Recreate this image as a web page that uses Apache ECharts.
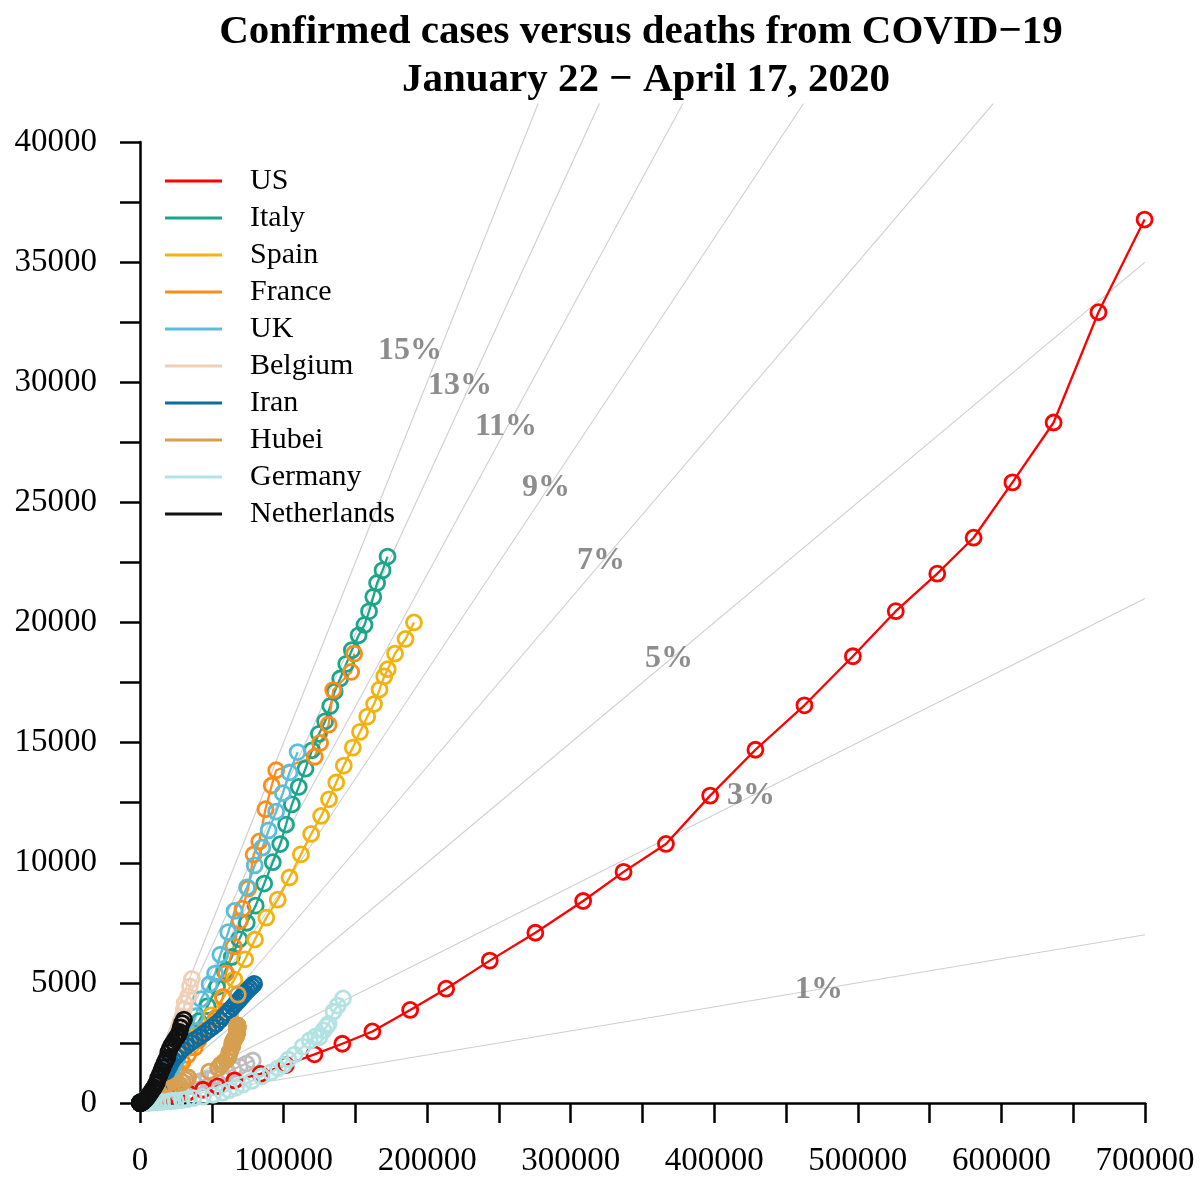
<!DOCTYPE html>
<html>
<head>
<meta charset="utf-8">
<script src="https://cdn.jsdelivr.net/npm/echarts@6/dist/echarts.min.js"></script>
<style>html,body{margin:0;padding:0;background:#fff}#chart{width:1201px;height:1180px}</style>
</head>
<body>
<div id="chart"></div>
<script>
// ---- Data (JHU cumulative confirmed cases / deaths) ----
const countryNames = ['US','Italy','Spain','France','UK','Belgium','Iran','Hubei','Germany','Netherlands'];

// US from Feb 21
const usCases = [15,15,15,51,51,57,58,60,68,
74,98,118,149,217,262,402,518,583,959,1281,1663,2179,2727,3499,4632,6421,7786,13680,19101,25493,33276,43847,53740,65778,83836,101657,121465,140909,161831,188172,
213242,243622,275367,308650,336802,366317,397121,428654,462780,496535,526396,555313,580619,607670,636350,667592,699706];
const usDeaths = [0,0,0,0,0,0,0,0,1,
1,6,7,11,12,14,17,21,22,28,36,40,47,54,63,85,108,118,200,244,307,427,552,706,942,1209,1581,2026,2467,2978,3873,
4757,5926,7087,8407,9619,10783,12794,14704,16553,18595,20471,22032,23529,25832,28325,32916,36773];

// Italy from Feb 21
const italyCases = [20,62,155,229,322,453,655,888,1128,
1694,2036,2502,3089,3858,4636,5883,7375,9172,10149,12462,12462,17660,21157,24747,27980,31506,35713,41035,47021,53578,59138,63927,69176,74386,80589,86498,92472,97689,101739,105792,
110574,115242,119827,124632,128948,132547,135586,139422,143626,147577,152271,156363,159516,162488,165155,168941,172434];
const italyDeaths = [1,2,3,7,10,12,17,21,29,
34,52,79,107,148,197,233,366,463,631,827,827,1266,1441,1809,2158,2503,2978,3405,4032,4825,5476,6077,6820,7503,8215,9134,10023,10779,11591,12428,
13155,13915,14681,15362,15887,16523,17127,17669,18279,18849,19468,19899,20465,21067,21645,22170,22745];

// Spain from Feb 25
const spainCases = [6,13,15,32,45,
84,120,165,222,259,400,500,673,1073,1695,2277,2277,5232,6391,7798,9942,11748,13910,17963,20410,25374,28768,35136,39885,49515,57786,65719,73235,80110,87956,95923,
104118,112065,119199,126168,131646,136675,141942,148220,153222,158273,163027,166831,170099,172541,177644,184948,190839];
const spainDeaths = [0,0,0,0,0,
0,0,1,2,3,5,10,17,28,35,54,55,133,195,289,342,533,623,830,1043,1375,1772,2311,2808,3647,4365,5138,5982,6803,7716,8464,
9387,10348,11198,11947,12641,13341,14045,14792,15447,16081,16606,17209,17756,18056,18708,19315,20002];

// France from Feb 25
const franceCases = [14,18,38,57,100,
130,191,204,288,380,656,959,1136,1219,1794,2293,2293,3681,4496,4532,6683,7715,9124,10970,12758,14463,16243,20123,22622,25600,29551,33402,38105,40708,45170,52827,
57749,59929,65202,69500,71412,75343,79163,83057,87366,91738,94863,121712,125394,131361,134582,147091,149130];
const franceDeaths = [1,2,2,2,2,
2,3,4,4,6,9,11,19,19,33,48,48,79,91,91,149,149,149,244,451,563,676,862,1102,1333,1698,1997,2317,2611,3030,3532,
4414,5398,6520,7574,8093,8926,10343,10887,12228,13215,13851,14412,14986,15748,17188,17941,18703];

// UK from Mar 1
const ukCases = [36,40,51,86,116,164,207,274,322,384,459,459,802,1144,1145,1551,1960,2642,2716,4014,5067,5745,6726,8164,9640,11812,14745,17312,19780,22453,25481,
29865,34173,38689,42477,48436,52279,55949,61474,65872,74605,79874,85206,89570,94845,99483,104145,109769];
const ukDeaths = [0,0,0,0,1,1,2,3,4,6,8,8,8,21,21,56,56,72,138,178,234,282,336,423,466,580,761,1021,1231,1411,1793,
2357,2926,3611,4320,4943,5385,6171,7111,7993,8974,9892,10629,11347,12129,12894,13759,14607];

// Belgium from Mar 1
const belgiumCases = [2,8,13,23,50,109,169,200,239,267,314,314,559,689,886,1058,1243,1486,1795,2257,2815,3401,3743,4269,4937,6235,7284,9134,10836,11899,12775,
13964,15348,16770,18431,19691,20814,22194,23403,24983,26667,28018,29647,30589,31119,33573,34809,36138];
const belgiumDeaths = [0,0,0,0,0,0,0,0,0,0,3,3,3,4,4,5,10,14,21,37,67,75,88,122,178,220,289,353,431,513,705,
828,1011,1143,1283,1447,1632,2035,2240,2523,3019,3346,3600,3903,4157,4440,4857,5163];

// Iran from Feb 19
const iranCases = [2,5,18,28,43,61,95,139,245,388,593,
978,1501,2336,2922,3513,4747,5823,6566,7161,8042,9000,10075,11364,12729,13938,14991,16169,17361,18407,19644,20610,21638,23049,24811,27017,29406,32332,35408,38309,41495,44605,
47593,50468,53183,55743,58226,60500,62589,64586,66220,68192,70029,71686,73303,74877,76389,77995,79494];
const iranDeaths = [2,2,4,5,8,12,16,19,26,34,43,
54,66,77,92,107,124,145,194,237,291,354,429,514,611,724,853,988,1135,1284,1433,1556,1685,1812,1934,2077,2234,2378,2517,2640,2757,2898,
3036,3160,3294,3452,3603,3739,3872,3993,4110,4232,4357,4474,4585,4683,4777,4869,4958];

// Hubei from Jan 22
const hubeiCases = [444,444,549,761,1058,1423,3554,3554,4903,5806,
7153,11177,13522,16678,19665,22112,24953,27100,29631,31728,33366,33366,48206,54406,56249,58182,59989,61682,62031,62442,62662,64084,64084,64287,64786,65187,65596,65914,66337,
66907,67103,67217,67332,67466,67592,67666,67707,67743,67760,67773,67781,67786,67790,67794,67798,67799,67800,67800,67800,67800,67800,67800,67801,67801,67801,67801,67801,67801,67801,67801,
67802,67802,67802,67803,67803,67803,67803,67803,67803,67803,67803,67803,67803,67803,67803,67803,68128];
const hubeiDeaths = [17,17,24,40,52,76,125,125,162,204,
249,350,414,479,549,618,699,780,871,974,1068,1068,1310,1457,1596,1696,1789,1921,2029,2144,2144,2346,2346,2495,2563,2615,2641,2682,2727,
2761,2803,2835,2871,2902,2931,2959,2986,3008,3024,3046,3056,3062,3075,3085,3099,3111,3122,3130,3133,3139,3144,3153,3160,3163,3169,3174,3177,3182,3186,3187,
3193,3199,3203,3207,3210,3212,3212,3213,3215,3216,3219,3219,3219,3219,3219,3222,4512];

// Germany from Feb 25
const germanyCases = [17,27,46,48,79,
130,159,196,262,482,670,799,1040,1176,1457,1908,2078,3675,4585,5795,7272,9257,12327,15320,19848,22213,24873,29056,32986,37323,43938,50871,57695,62095,66885,71808,
77872,84794,91159,96092,100123,103374,107663,113296,118181,122171,124908,127854,130072,131359,134753,137698,141397];
const germanyDeaths = [0,0,0,0,0,
0,0,0,0,0,0,0,0,2,2,3,3,7,9,11,17,24,28,44,67,84,94,123,157,206,267,342,433,533,645,775,
920,1107,1275,1444,1584,1810,2016,2349,2607,2767,2736,3022,3194,3294,3804,4052,4352];

// Netherlands from Feb 27
const netherlandsCases = [1,1,6,
10,18,24,38,82,128,188,265,321,382,503,503,806,962,1138,1416,1711,2058,2467,3003,3640,4216,4764,5580,6438,7468,8647,9819,10930,11817,12667,
13696,14788,15821,17000,17953,18926,19709,20682,21903,23249,24571,25746,26710,27580,28316,29383,30619];
const netherlandsDeaths = [0,0,0,
0,0,0,0,0,1,1,3,3,4,5,5,10,12,20,24,43,58,77,107,137,180,214,277,357,435,547,640,772,865,1040,
1175,1341,1490,1656,1771,1874,2108,2255,2403,2520,2653,2747,2833,2955,3145,3327,3471];

// Unlabelled grey series (Turkey) from Mar 11
const turkeyCases = [1,1,5,5,6,18,47,98,192,359,670,1236,1529,1872,2433,3629,5698,7402,9217,10827,13531,
15679,18135,20921,23934,27069,30217,34109,38226,42282,47029,52167,56956,61049,65111,69392,74193,78546];
const turkeyDeaths = [0,0,0,0,0,0,1,1,3,4,9,30,37,44,59,75,92,108,131,168,214,
277,356,425,501,574,649,725,812,908,1006,1101,1198,1296,1403,1518,1643,1769];

// Case-fatality reference lines (%) and their label anchors (cases, deaths)
const pctLevels = [1,3,5,7,9,11,13,15];
const pctLabelCases = [472940,425570,368460,321100,282790,254930,222900,188060];
const pctLabelDeaths = [4703,12778,18480,22560,25598,28138,29844,31300];

const xTicksMax = 700000, yTicksMax = 40000;

// ---- Build chart ----
const casesList = [usCases,italyCases,spainCases,franceCases,ukCases,belgiumCases,iranCases,hubeiCases,germanyCases,netherlandsCases];
const deathsList = [usDeaths,italyDeaths,spainDeaths,franceDeaths,ukDeaths,belgiumDeaths,iranDeaths,hubeiDeaths,germanyDeaths,netherlandsDeaths];
const colors = ['#FF0000','#1BA58A','#F2B20F','#FF8C1A','#5BBDDB','#F0CFB4','#0F6C9E','#D6A050','#B2E2E2','#111111'];
const FONT = '"Liberation Serif","Times New Roman",serif';
const yTop = yTicksMax * 1.04;

function pairs(c, d){ return c.map((v,i)=>[v, d[i]]); }

const series = [];
pctLevels.forEach(p => {
  const f = p/100;
  const xEnd = Math.min(xTicksMax, yTop/f);
  series.push({type:'line', silent:true, clip:false, symbol:'none', z:1,
    lineStyle:{color:'#cfcfcf', width:1.1}, data:[[0,0],[xEnd, xEnd*f]]});
});
series.push({type:'scatter', silent:true, z:2, symbolSize:0,
  data: pctLevels.map((p,i)=>[pctLabelCases[i], pctLabelDeaths[i], p]),
  label:{show:true, position:'inside', formatter: pr => pr.value[2] + '%',
    fontFamily:FONT, fontSize:32, fontWeight:'bold', color:'#707070'}});

function dataSeries(name, cases, deaths, col){
  return {name:name, type:'line', silent:true, z:3, showAllSymbol:true,
    symbol:'circle', symbolSize:15,
    itemStyle:{color:'rgba(0,0,0,0)', borderColor:col, borderWidth:2.8},
    lineStyle:{color:col, width:2.3},
    emphasis:{disabled:true},
    data: pairs(cases, deaths)};
}
series.push(dataSeries('Turkey', turkeyCases, turkeyDeaths, '#BDBDBD'));
countryNames.forEach((n,i)=>series.push(dataSeries(n, casesList[i], deathsList[i], colors[i])));

const chart = echarts.init(document.getElementById('chart'), null, {renderer:'canvas'});
chart.setOption({
  animation:false,
  backgroundColor:'#fff',
  graphic:[
    {type:'text', x:641, y:32, style:{text:'Confirmed cases versus deaths from COVID\u221219', font:'bold 41px ' + FONT, fill:'#000', align:'center', verticalAlign:'middle'}},
    {type:'text', x:646, y:80, style:{text:'January 22 \u2212 April 17, 2020', font:'bold 41px ' + FONT, fill:'#000', align:'center', verticalAlign:'middle'}}
  ],
  grid:{left:140, right:56, top:142, bottom:77, containLabel:false},
  legend:{
    orient:'vertical', left:165, top:166, padding:0, itemGap:7,
    icon:'rect', itemWidth:57, itemHeight:3,
    selectedMode:false,
    textStyle:{fontFamily:FONT, fontSize:30, color:'#000', lineHeight:30, padding:[0,0,0,23]},
    data: countryNames.map((n,i)=>({name:n, itemStyle:{color:colors[i], borderWidth:0}}))
  },
  xAxis:{type:'value', min:0, max:xTicksMax, interval:50000,
    splitLine:{show:false},
    axisLine:{show:true, onZero:false, lineStyle:{color:'#000', width:2.5}},
    axisTick:{show:true, length:20, lineStyle:{color:'#000', width:2.5}},
    axisLabel:{margin:42, fontFamily:FONT, fontSize:33, color:'#000',
      formatter: v => (v % 100000 === 0 ? String(v) : '')}},
  yAxis:{type:'value', min:0, max:yTicksMax, interval:2500,
    splitLine:{show:false},
    axisLine:{show:true, onZero:false, lineStyle:{color:'#000', width:2.5}},
    axisTick:{show:true, length:20, lineStyle:{color:'#000', width:2.5}},
    axisLabel:{margin:43, fontFamily:FONT, fontSize:33, color:'#000',
      formatter: v => (v % 5000 === 0 ? String(v) : '')}},
  series: series
});
</script>
</body>
</html>
